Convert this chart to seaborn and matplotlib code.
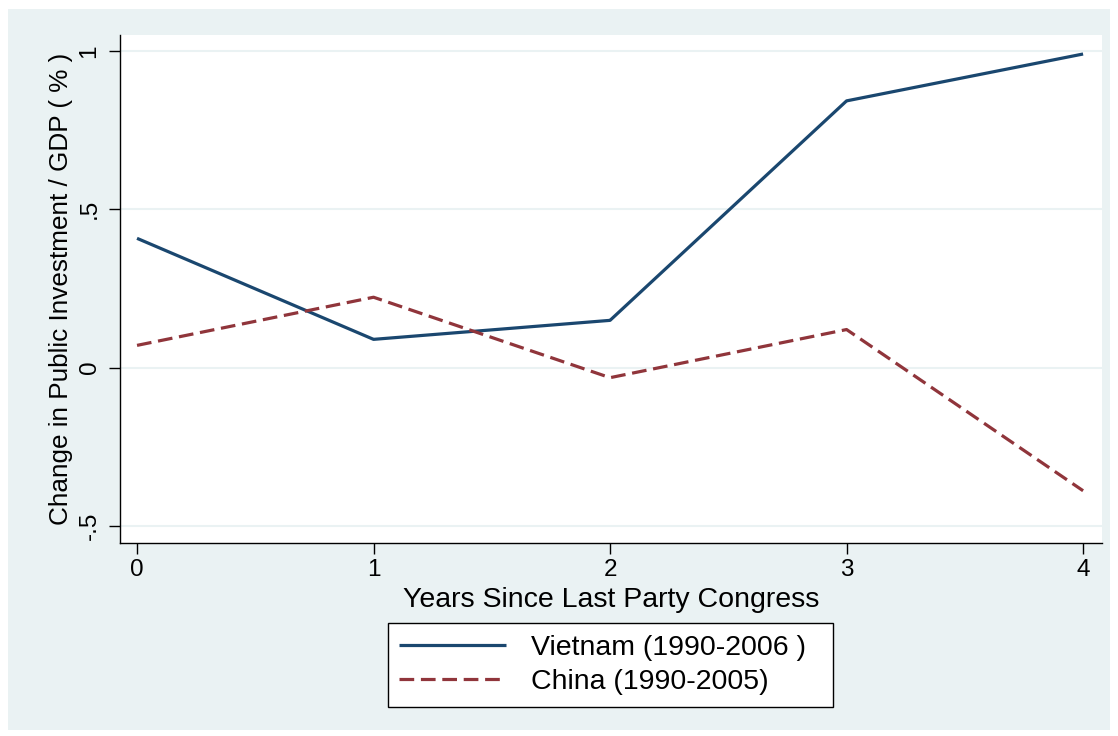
import pandas as pd
import matplotlib
matplotlib.use('Agg')
import matplotlib.pyplot as plt
import seaborn as sns
from matplotlib.patches import Rectangle

# values
years = [0, 1, 2, 3, 4]
vietnam = [0.408, 0.089, 0.149, 0.842, 0.99]
china = [0.07, 0.222, -0.032, 0.12, -0.389]
series_names = ['Vietnam (1990-2006 )', 'China (1990-2005)']
y_ticks = [-0.5, 0, 0.5, 1]
y_tick_labels = ['-.5', '0', '.5', '1']

df = pd.DataFrame({
    'year': years * 2,
    'value': vietnam + china,
    'series': [series_names[0]] * len(years) + [series_names[1]] * len(years),
})

sns.set_style('white')
plt.rcParams['font.family'] = ['Liberation Sans', 'DejaVu Sans']
plt.rcParams['text.color'] = 'black'
plt.rcParams['axes.labelcolor'] = 'black'

bg = '#eaf2f3'
fig = plt.figure(figsize=(11.18, 7.36), dpi=100, facecolor='white')
fig.patches.append(Rectangle((8 / 1118, 6 / 736), 1102 / 1118, 721 / 736,
                             transform=fig.transFigure, facecolor=bg,
                             edgecolor='none', zorder=-10))
ax = fig.add_axes([120 / 1118, 193 / 736, 982 / 1118, 508 / 736])
ax.set_zorder(1)
ax.set_facecolor('white')

sns.lineplot(data=df, x='year', y='value', hue='series', style='series',
             palette=['#1a476f', '#90353b'],
             dashes=[(1, 0), (4.6, 2.1)], linewidth=2.3, ax=ax, legend=False)

ax.set_xlim(-0.072, 4.08)
ax.set_ylim(-0.554, 1.05)
ax.set_xticks(years)
ax.set_yticks(y_ticks)
ax.set_yticklabels(y_tick_labels, rotation=90, va='center')
ax.grid(axis='y', color=bg, linewidth=1.5)
ax.grid(axis='x', visible=False)
for s in ['top', 'right']:
    ax.spines[s].set_visible(False)
for s in ['left', 'bottom']:
    ax.spines[s].set_color('black')
    ax.spines[s].set_linewidth(1.0)
ax.tick_params(axis='both', labelsize=17.5, colors='black', direction='out',
               length=8, width=1, left=True, bottom=True)
ax.tick_params(axis='y', pad=6)
ax.set_xlabel('Years Since Last Party Congress', fontsize=20.5, labelpad=4)
ax.set_ylabel('Change in Public Investment / GDP ( % )', fontsize=18.8, labelpad=4)

handles = ax.get_lines()[:2]
leg = fig.legend(handles, series_names, loc='center',
                 bbox_to_anchor=(388 / 1118, 31 / 736, 445 / 1118, 80 / 736),
                 mode='expand', borderaxespad=0, fontsize=20.5, frameon=True,
                 fancybox=False, edgecolor='black', facecolor='white',
                 framealpha=1, handlelength=3.75, handletextpad=0.88,
                 borderpad=0.4, labelspacing=0.3)
leg.get_frame().set_linewidth(1.0)
leg.set_zorder(2)

fig.savefig('out.png', dpi=100, facecolor='white')
